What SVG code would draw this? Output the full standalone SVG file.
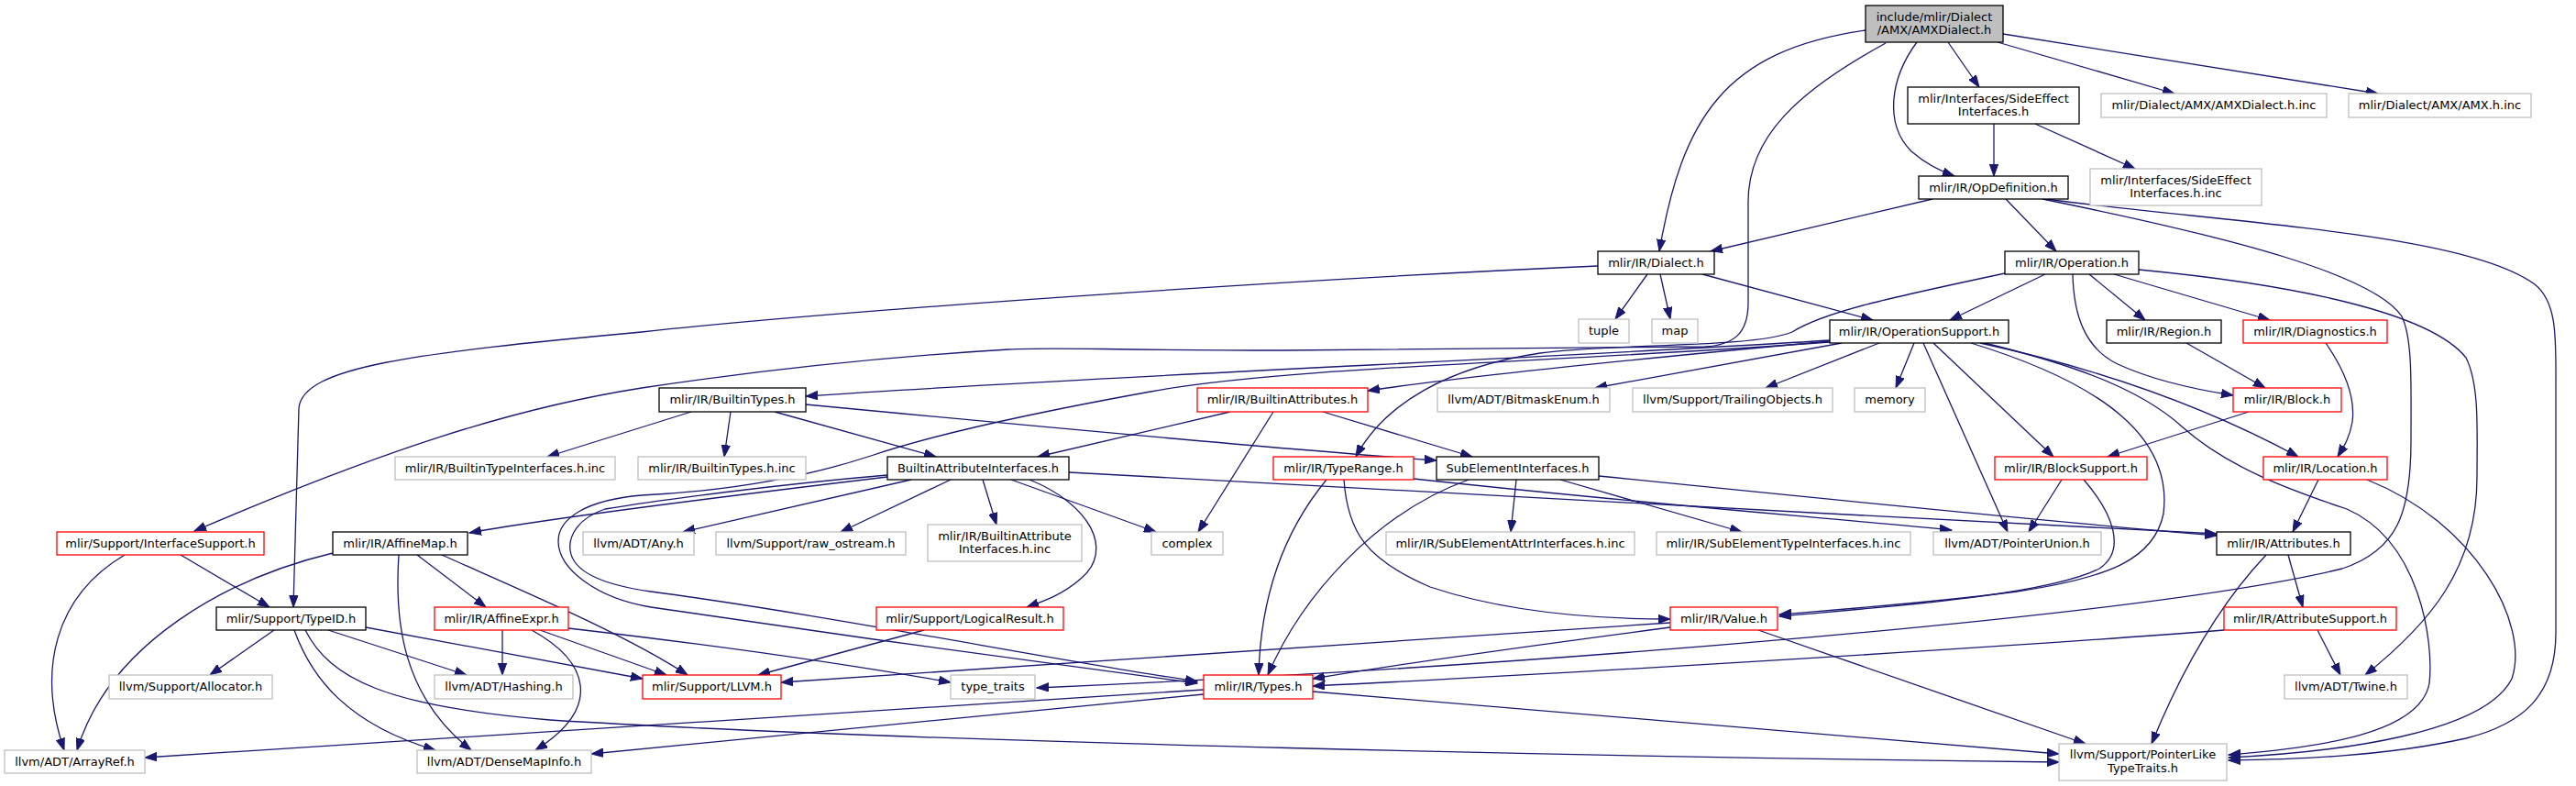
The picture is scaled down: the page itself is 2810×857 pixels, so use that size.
<svg xmlns="http://www.w3.org/2000/svg" width="2810" height="857" viewBox="0 0 2810 857">
<defs>
<style>
.nd rect{fill:#ffffff;stroke:#000000;stroke-width:1.3}
.nd.gr rect{stroke:#bfbfbf}
.nd.rd rect{stroke:#ff0000}
.nd.top rect{fill:#bfbfbf}
.nd text{font-family:"DejaVu Sans","Liberation Sans",sans-serif;font-size:13px;fill:#000000;text-anchor:middle}
#edges path{fill:none;stroke:#191970;stroke-width:1.3;marker-end:url(#ah)}
</style>
<marker id="ah" markerWidth="14" markerHeight="10" refX="13" refY="5" orient="auto" markerUnits="userSpaceOnUse">
<path d="M0,0.3 L13,5 L0,9.7 z" fill="#191970" stroke="#191970" stroke-width="1"/>
</marker>
</defs>
<rect x="0" y="0" width="2810" height="857" fill="#ffffff"/>
<g id="edges">
<path d="M2035,33 C1880,55 1835,130 1810,274"/>
<path d="M2057,47 C1960,100 1907,150 1907,220 L1907,330 C1907,365 1890,376 1860,378 L1400,382 C1200,382 1150,378 1100,381 C950,390 820,405 700,423 C560,445 420,490 212,579"/>
<path d="M2091,46 C2062,85 2055,135 2085,165 C2100,178 2115,186 2132,192"/>
<path d="M2125,46 L2159,95"/>
<path d="M2179,46 L2372,102"/>
<path d="M2185,37 L2594,102"/>
<path d="M2175,135 L2175,192"/>
<path d="M2220,135 L2329,184"/>
<path d="M2108,217 L1866,274"/>
<path d="M2188,217 L2243,274"/>
<path d="M2231,217 C2450,245 2690,255 2765,310 C2790,330 2788,370 2788,420 L2788,690 C2788,760 2750,790 2690,805 C2600,825 2500,828 2431,829"/>
<path d="M2228,217 C2440,260 2590,300 2620,345 C2632,370 2630,420 2630,480 C2630,560 2615,600 2555,620 C2350,670 1700,725 1131,750"/>
<path d="M2231,299 L2127,349"/>
<path d="M2279,299 L2340,349"/>
<path d="M2306,299 L2476,349"/>
<path d="M2261,299 C2262,345 2275,380 2310,397 C2345,413 2390,424 2436,431"/>
<path d="M2333,294 C2500,310 2650,340 2690,390 C2705,420 2702,470 2702,520 C2702,620 2650,680 2580,736"/>
<path d="M2187,298 C2060,325 1990,340 1955,362 C1910,380 1760,374 1680,385 C1580,400 1510,440 1479,498"/>
<path d="M1743,290 C1400,305 900,340 700,362 C450,385 330,400 326,445 L320,662"/>
<path d="M1797,299 L1762,348"/>
<path d="M1811,299 L1822,348"/>
<path d="M1857,299 L2043,349"/>
<path d="M1996,371 C1700,390 1200,410 879,432"/>
<path d="M1996,372 C1800,390 1600,410 1492,426"/>
<path d="M2009,374 L1740,423"/>
<path d="M2050,374 L1926,423"/>
<path d="M2088,374 L2068,423"/>
<path d="M2109,374 L2240,498"/>
<path d="M2098,374 L2190,580"/>
<path d="M2160,374 C2280,400 2400,440 2507,498"/>
<path d="M2150,374 C2300,420 2370,480 2360,560 C2350,610 2300,630 2200,645 C2100,658 2000,665 1941,670"/>
<path d="M2165,374 C2250,395 2330,420 2380,465 C2430,510 2500,535 2560,555 C2640,590 2655,700 2650,745 C2640,800 2530,815 2431,823"/>
<path d="M1996,373 C1700,395 1400,400 1255,427 C1100,455 1000,480 950,497 C880,520 800,535 700,540 C640,545 609,565 609,590 C609,620 650,652 710,662 C900,690 1150,725 1306,745"/>
<path d="M2385,374 L2471,423"/>
<path d="M2537,374 C2555,400 2570,430 2566,460 C2563,478 2556,488 2550,498"/>
<path d="M2453,449 L2299,498"/>
<path d="M2249,523 L2213,580"/>
<path d="M2273,523 C2305,560 2320,600 2290,620 C2230,650 2050,662 1941,672"/>
<path d="M2529,523 L2501,580"/>
<path d="M2582,523 C2700,570 2760,680 2740,740 C2710,800 2550,820 2431,826"/>
<path d="M2496,605 L2512,662"/>
<path d="M2472,605 C2420,660 2380,730 2347,811"/>
<path d="M2528,687 L2553,736"/>
<path d="M2426,687 C2200,705 1700,735 1432,748"/>
<path d="M754,449 L597,498"/>
<path d="M797,449 L790,498"/>
<path d="M845,449 L1021,498"/>
<path d="M879,441 C1100,462 1400,490 1567,502"/>
<path d="M1342,449 L1132,498"/>
<path d="M1389,449 L1307,580"/>
<path d="M1443,449 L1606,498"/>
<path d="M968,520 C800,540 600,565 512,581"/>
<path d="M968,518 C850,528 720,545 660,555 C630,565 620,585 622,600 C625,625 660,638 710,645 C900,670 1150,720 1306,743"/>
<path d="M994,523 L745,580"/>
<path d="M1037,523 L917,580"/>
<path d="M1072,523 L1087,572"/>
<path d="M1123,523 C1190,550 1215,600 1180,630 C1160,648 1140,655 1120,662"/>
<path d="M1103,523 L1261,580"/>
<path d="M1166,515 C1500,535 2000,560 2418,582"/>
<path d="M1447,523 C1400,580 1375,650 1373,736"/>
<path d="M1466,523 C1470,580 1490,610 1560,640 C1650,670 1750,675 1822,675"/>
<path d="M1542,522 C1800,550 2000,565 2129,578"/>
<path d="M1602,523 C1500,560 1420,650 1383,736"/>
<path d="M1654,523 L1648,580"/>
<path d="M1702,523 L1900,580"/>
<path d="M1744,519 C2000,545 2250,570 2418,584"/>
<path d="M197,605 L294,662"/>
<path d="M136,605 C60,650 40,730 70,818"/>
<path d="M363,603 C250,630 120,700 84,818"/>
<path d="M435,605 C430,680 440,760 514,818"/>
<path d="M455,605 L530,662"/>
<path d="M482,605 C560,640 680,690 750,736"/>
<path d="M299,687 L229,736"/>
<path d="M358,687 L509,736"/>
<path d="M321,687 C340,740 380,790 475,818"/>
<path d="M399,684 L701,740"/>
<path d="M333,687 C360,740 420,770 600,785 C1000,810 1800,826 2246,831"/>
<path d="M548,687 L548,736"/>
<path d="M580,687 C640,720 660,770 584,818"/>
<path d="M589,687 L727,736"/>
<path d="M620,685 C750,700 900,720 1037,744"/>
<path d="M1008,687 L827,736"/>
<path d="M1822,679 L852,744"/>
<path d="M1822,684 C1700,700 1550,720 1432,740"/>
<path d="M1918,687 L2275,811"/>
<path d="M1313,752 L158,826"/>
<path d="M1313,757 L645,822"/>
<path d="M1432,754 L2246,822"/>
</g>
<g id="n0" class="nd top"><rect x="2035" y="6" width="150" height="40"/><text x="2110" y="23">include/mlir/Dialect</text><text x="2110" y="37">/AMX/AMXDialect.h</text></g>
<g id="n1" class="nd"><rect x="1743" y="274" width="127" height="25"/><text x="1806.5" y="291">mlir/IR/Dialect.h</text></g>
<g id="n2" class="nd"><rect x="2093" y="192" width="163" height="25"/><text x="2174.5" y="209">mlir/IR/OpDefinition.h</text></g>
<g id="n3" class="nd"><rect x="2081" y="95" width="187" height="40"/><text x="2174.5" y="112">mlir/Interfaces/SideEffect</text><text x="2174.5" y="126">Interfaces.h</text></g>
<g id="n4" class="nd gr"><rect x="2292" y="102" width="246" height="26"/><text x="2415" y="119">mlir/Dialect/AMX/AMXDialect.h.inc</text></g>
<g id="n5" class="nd gr"><rect x="2562" y="102" width="199" height="26"/><text x="2661.5" y="119">mlir/Dialect/AMX/AMX.h.inc</text></g>
<g id="n6" class="nd gr"><rect x="2280" y="184" width="187" height="40"/><text x="2373.5" y="201">mlir/Interfaces/SideEffect</text><text x="2373.5" y="215">Interfaces.h.inc</text></g>
<g id="n7" class="nd"><rect x="2187" y="274" width="146" height="25"/><text x="2260" y="291">mlir/IR/Operation.h</text></g>
<g id="n8" class="nd gr"><rect x="1722" y="348" width="55" height="26"/><text x="1749.5" y="365">tuple</text></g>
<g id="n9" class="nd gr"><rect x="1802" y="348" width="50" height="26"/><text x="1827" y="365">map</text></g>
<g id="n10" class="nd"><rect x="1996" y="349" width="195" height="25"/><text x="2093.5" y="366">mlir/IR/OperationSupport.h</text></g>
<g id="n11" class="nd"><rect x="2298" y="349" width="125" height="25"/><text x="2360.5" y="366">mlir/IR/Region.h</text></g>
<g id="n12" class="nd rd"><rect x="2447" y="349" width="157" height="25"/><text x="2525.5" y="366">mlir/IR/Diagnostics.h</text></g>
<g id="n13" class="nd"><rect x="719" y="423" width="160" height="26"/><text x="799" y="440">mlir/IR/BuiltinTypes.h</text></g>
<g id="n14" class="nd rd"><rect x="1306" y="423" width="186" height="26"/><text x="1399" y="440">mlir/IR/BuiltinAttributes.h</text></g>
<g id="n15" class="nd gr"><rect x="1568" y="423" width="188" height="26"/><text x="1662" y="440">llvm/ADT/BitmaskEnum.h</text></g>
<g id="n16" class="nd gr"><rect x="1781" y="423" width="218" height="26"/><text x="1890" y="440">llvm/Support/TrailingObjects.h</text></g>
<g id="n17" class="nd gr"><rect x="2023" y="423" width="77" height="26"/><text x="2061.5" y="440">memory</text></g>
<g id="n18" class="nd rd"><rect x="2436" y="423" width="118" height="26"/><text x="2495" y="440">mlir/IR/Block.h</text></g>
<g id="n19" class="nd gr"><rect x="431" y="498" width="240" height="25"/><text x="551" y="515">mlir/IR/BuiltinTypeInterfaces.h.inc</text></g>
<g id="n20" class="nd gr"><rect x="696" y="498" width="183" height="25"/><text x="787.5" y="515">mlir/IR/BuiltinTypes.h.inc</text></g>
<g id="n21" class="nd"><rect x="968" y="498" width="198" height="25"/><text x="1067" y="515">BuiltinAttributeInterfaces.h</text></g>
<g id="n22" class="nd rd"><rect x="1389" y="498" width="153" height="25"/><text x="1465.5" y="515">mlir/IR/TypeRange.h</text></g>
<g id="n23" class="nd"><rect x="1567" y="498" width="177" height="25"/><text x="1655.5" y="515">SubElementInterfaces.h</text></g>
<g id="n24" class="nd rd"><rect x="2176" y="498" width="166" height="25"/><text x="2259" y="515">mlir/IR/BlockSupport.h</text></g>
<g id="n25" class="nd rd"><rect x="2469" y="498" width="135" height="25"/><text x="2536.5" y="515">mlir/IR/Location.h</text></g>
<g id="n26" class="nd rd"><rect x="62" y="580" width="226" height="25"/><text x="175" y="597">mlir/Support/InterfaceSupport.h</text></g>
<g id="n27" class="nd"><rect x="363" y="580" width="147" height="25"/><text x="436.5" y="597">mlir/IR/AffineMap.h</text></g>
<g id="n28" class="nd gr"><rect x="636" y="580" width="121" height="25"/><text x="696.5" y="597">llvm/ADT/Any.h</text></g>
<g id="n29" class="nd gr"><rect x="781" y="580" width="207" height="25"/><text x="884.5" y="597">llvm/Support/raw_ostream.h</text></g>
<g id="n30" class="nd gr"><rect x="1012" y="572" width="168" height="40"/><text x="1096" y="589">mlir/IR/BuiltinAttribute</text><text x="1096" y="603">Interfaces.h.inc</text></g>
<g id="n31" class="nd gr"><rect x="1256" y="580" width="78" height="25"/><text x="1295" y="597">complex</text></g>
<g id="n32" class="nd gr"><rect x="1512" y="580" width="271" height="25"/><text x="1647.5" y="597">mlir/IR/SubElementAttrInterfaces.h.inc</text></g>
<g id="n33" class="nd gr"><rect x="1807" y="580" width="277" height="25"/><text x="1945.5" y="597">mlir/IR/SubElementTypeInterfaces.h.inc</text></g>
<g id="n34" class="nd gr"><rect x="2109" y="580" width="183" height="25"/><text x="2200.5" y="597">llvm/ADT/PointerUnion.h</text></g>
<g id="n35" class="nd"><rect x="2418" y="580" width="146" height="25"/><text x="2491" y="597">mlir/IR/Attributes.h</text></g>
<g id="n36" class="nd"><rect x="236" y="662" width="163" height="25"/><text x="317.5" y="679">mlir/Support/TypeID.h</text></g>
<g id="n37" class="nd rd"><rect x="474" y="662" width="146" height="25"/><text x="547" y="679">mlir/IR/AffineExpr.h</text></g>
<g id="n38" class="nd rd"><rect x="956" y="662" width="204" height="25"/><text x="1058" y="679">mlir/Support/LogicalResult.h</text></g>
<g id="n39" class="nd rd"><rect x="1822" y="662" width="117" height="25"/><text x="1880.5" y="679">mlir/IR/Value.h</text></g>
<g id="n40" class="nd rd"><rect x="2426" y="662" width="188" height="25"/><text x="2520" y="679">mlir/IR/AttributeSupport.h</text></g>
<g id="n41" class="nd gr"><rect x="119" y="736" width="178" height="26"/><text x="208" y="753">llvm/Support/Allocator.h</text></g>
<g id="n42" class="nd gr"><rect x="474" y="736" width="151" height="26"/><text x="549.5" y="753">llvm/ADT/Hashing.h</text></g>
<g id="n43" class="nd rd"><rect x="701" y="736" width="151" height="26"/><text x="776.5" y="753">mlir/Support/LLVM.h</text></g>
<g id="n44" class="nd gr"><rect x="1037" y="736" width="92" height="26"/><text x="1083" y="753">type_traits</text></g>
<g id="n45" class="nd rd"><rect x="1313" y="736" width="119" height="26"/><text x="1372.5" y="753">mlir/IR/Types.h</text></g>
<g id="n46" class="nd gr"><rect x="2492" y="736" width="134" height="26"/><text x="2559" y="753">llvm/ADT/Twine.h</text></g>
<g id="n47" class="nd gr"><rect x="5" y="818" width="153" height="25"/><text x="81.5" y="835">llvm/ADT/ArrayRef.h</text></g>
<g id="n48" class="nd gr"><rect x="455" y="818" width="190" height="25"/><text x="550" y="835">llvm/ADT/DenseMapInfo.h</text></g>
<g id="n49" class="nd gr"><rect x="2246" y="811" width="183" height="40"/><text x="2337.5" y="827">llvm/Support/PointerLike</text><text x="2337.5" y="842">TypeTraits.h</text></g>
</svg>
